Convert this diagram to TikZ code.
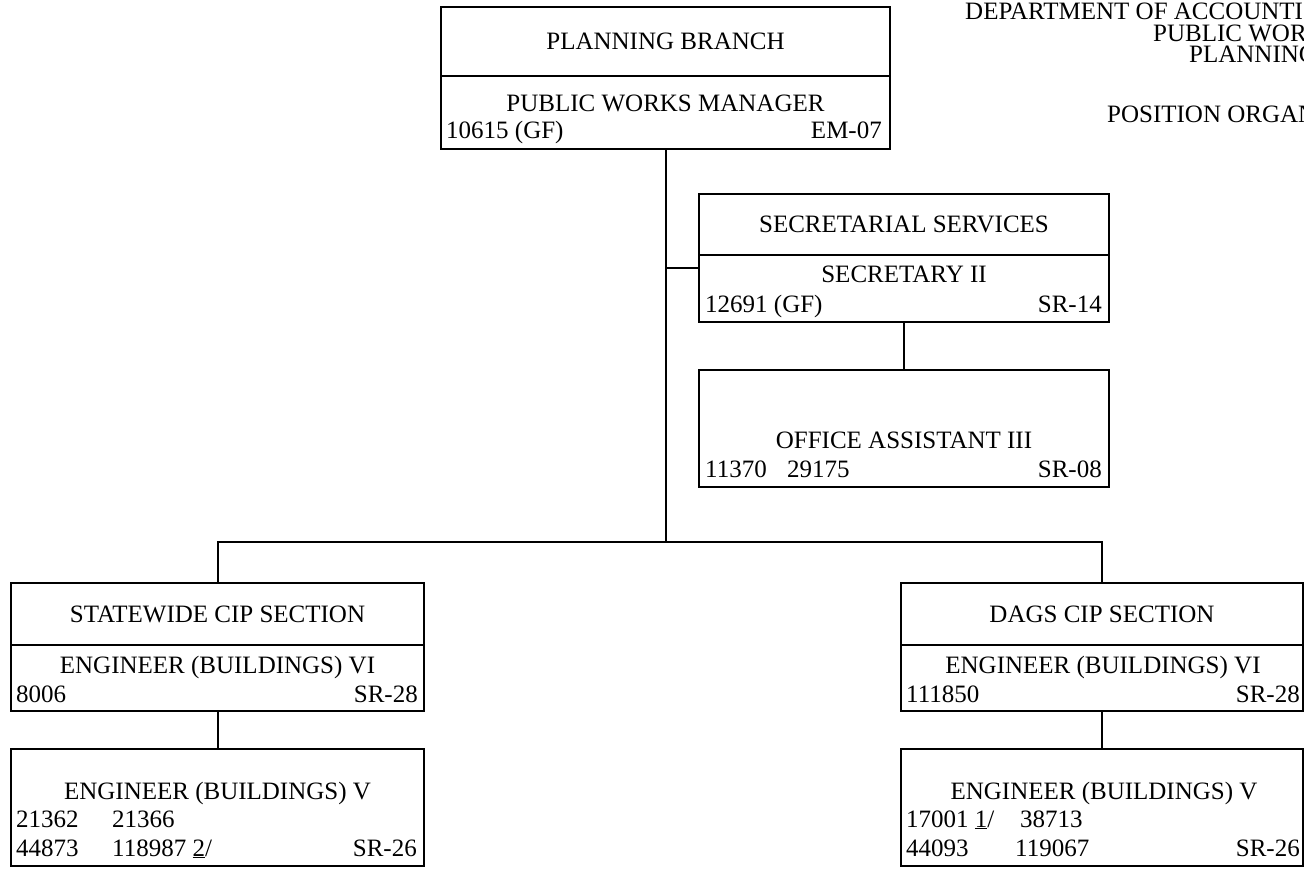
\documentclass[tikz,border=0pt]{standalone}
\usepackage{fontspec}
\setmainfont{Liberation Serif}
\usetikzlibrary{positioning}

\begin{document}
\begin{tikzpicture}[
      x=1pt, y=-1pt,
      every node/.style={font=\fontsize{25}{29}\selectfont},
      head/.style={draw, line width=2pt, inner sep=0pt, outer sep=0pt},
      post/.style={head},
      txt/.style={inner sep=0pt},
      conn/.style={line width=2pt}
    ]
    \clip (0,0) rectangle (1304,869);

    \node[head, minimum width=449pt, minimum height=69pt] (plan) at (665.5,41.5) {PLANNING BRANCH};
    \node[post, minimum width=449pt, minimum height=73pt, below=0pt of plan] (plan-post) {};
    \node[txt, anchor=base]      (plan-title) at (665.5,112) {PUBLIC WORKS MANAGER};
    \node[txt, anchor=base west] (plan-num)   at (446,139)   {10615 (GF)};
    \node[txt, anchor=base east] (plan-sr)    at (882,139)   {EM-07};

    \node[txt, anchor=base west] (dept)  at (965,20)   {DEPARTMENT OF ACCOUNTI};
    \node[txt, anchor=base west] (pubw)  at (1153,42)  {PUBLIC WOR};
    \node[txt, anchor=base west] (plng)  at (1189,63)  {PLANNING};
    \node[txt, anchor=base west] (porg)  at (1107,123) {POSITION ORGAN};

    \node[head, minimum width=410pt, minimum height=61pt] (sec) at (904,224.5) {SECRETARIAL SERVICES};
    \node[post, minimum width=410pt, minimum height=67pt, below=0pt of sec] (sec-post) {};
    \node[txt, anchor=base]      (sec-title) at (904,282)  {SECRETARY II};
    \node[txt, anchor=base west] (sec-num)   at (705,312)  {12691 (GF)};
    \node[txt, anchor=base east] (sec-sr)    at (1102,312) {SR-14};

    \node[post, minimum width=410pt, minimum height=117pt] (office) at (904,428.5) {};
    \node[txt, anchor=base]      (office-title) at (904,448)  {OFFICE ASSISTANT III};
    \node[txt, anchor=base west] (office-num1)  at (705,477)  {11370};
    \node[txt, anchor=base west] (office-num2)  at (787,477)  {29175};
    \node[txt, anchor=base east] (office-sr)    at (1102,477) {SR-08};

    \node[head, minimum width=413pt, minimum height=62pt] (state) at (217.5,614) {STATEWIDE CIP SECTION};
    \node[post, minimum width=413pt, minimum height=66pt, below=0pt of state] (state-post) {};
    \node[txt, anchor=base]      (state-title) at (217.5,673) {ENGINEER (BUILDINGS) VI};
    \node[txt, anchor=base west] (state-num)   at (16,702)    {8006};
    \node[txt, anchor=base east] (state-sr)    at (418,702)   {SR-28};

    \node[post, minimum width=413pt, minimum height=117pt] (state-low) at (217.5,807.5) {};
    \node[txt, anchor=base]      (slow-title) at (217.5,799) {ENGINEER (BUILDINGS) V};
    \node[txt, anchor=base west] (slow-num1)  at (16,827)    {21362};
    \node[txt, anchor=base west] (slow-num2)  at (112,827)   {21366};
    \node[txt, anchor=base west] (slow-num3)  at (16,856)    {44873};
    \node[txt, anchor=base west] (slow-num4)  at (112,856)   {118987 \underline{2}/};
    \node[txt, anchor=base east] (slow-sr)    at (417,856)   {SR-26};

    \node[head, minimum width=402pt, minimum height=62pt] (dags) at (1102,614) {DAGS CIP SECTION};
    \node[post, minimum width=402pt, minimum height=66pt, below=0pt of dags] (dags-post) {};
    \node[txt, anchor=base]      (dags-title) at (1103,673) {ENGINEER (BUILDINGS) VI};
    \node[txt, anchor=base west] (dags-num)   at (906,702)  {111850};
    \node[txt, anchor=base east] (dags-sr)    at (1300,702) {SR-28};

    \node[post, minimum width=402pt, minimum height=117pt] (dags-low) at (1102,807.5) {};
    \node[txt, anchor=base]      (dlow-title) at (1104,799) {ENGINEER (BUILDINGS) V};
    \node[txt, anchor=base west] (dlow-num1)  at (906,827)  {17001 \underline{1}/};
    \node[txt, anchor=base west] (dlow-num2)  at (1020,827) {38713};
    \node[txt, anchor=base west] (dlow-num3)  at (906,856)  {44093};
    \node[txt, anchor=base west] (dlow-num4)  at (1015,856) {119067};
    \node[txt, anchor=base east] (dlow-sr)    at (1300,856) {SR-26};

    \coordinate (hub) at (665.5,542);
    \coordinate (sec-join) at (665.5,268);

    \draw[conn] (plan-post.south)  -- (hub);
    \draw[conn] (sec-join)         -- (sec-join -| sec-post.west);
    \draw[conn] (sec-post.south)   -- (office.north);
    \draw[conn] (hub)              -| (state.north);
    \draw[conn] (hub)              -| (dags.north);
    \draw[conn] (state-post.south) -- (state-low.north);
    \draw[conn] (dags-post.south)  -- (dags-low.north);
  \end{tikzpicture}
\end{document}
